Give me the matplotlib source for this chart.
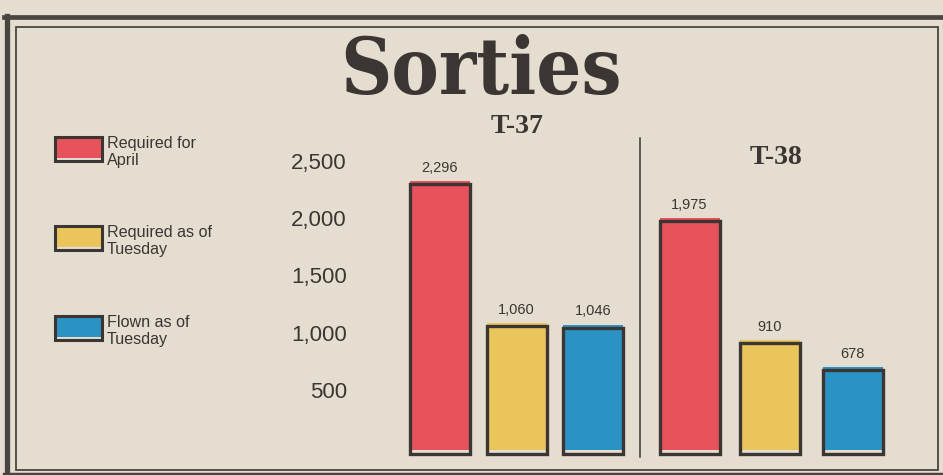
import matplotlib
matplotlib.use("Agg")
import matplotlib.pyplot as plt
from matplotlib.patches import Rectangle
from matplotlib.lines import Line2D
from matplotlib import font_manager as fm
import numpy as np

# ---- data ----
title = "Sorties"
groups = ["T-37", "T-38"]
series = ["Required for\nApril", "Required as of\nTuesday", "Flown as of\nTuesday"]
t37_values = [2296, 1060, 1046]
t38_values = [1975, 910, 678]
value_labels_t37 = ["2,296", "1,060", "1,046"]
value_labels_t38 = ["1,975", "910", "678"]
yticks = [500, 1000, 1500, 2000, 2500]
ytick_labels = ["500", "1,000", "1,500", "2,000", "2,500"]

# ---- style ----
W, H = 943, 475
BG = "#e5ddcf"
INK = "#3b3633"
FRAME = "#4a4541"
colors = ["#e8525c", "#e9c55c", "#2b93c4"]

names = {f.name for f in fm.fontManager.ttflist}
HAS_NARROW = "Liberation Sans Narrow" in names
LEG_FONT = "Liberation Sans Narrow" if HAS_NARROW else "Liberation Sans"
LEG_SIZE = 12.6 if HAS_NARROW else 11.6
LEG_LS = 1.0 if HAS_NARROW else 1.1

fig = plt.figure(figsize=(W / 100, H / 100), dpi=100, facecolor=BG)

def fx(px):
    return px / W

def fy(py):
    return 1 - py / H

# ---- frame ----
fig.add_artist(Line2D([fx(4), 1], [fy(16.5), fy(16.5)], color=FRAME, lw=3.4))
fig.add_artist(Line2D([fx(7), fx(7)], [fy(16), fy(475)], color=FRAME, lw=3.8))
fig.add_artist(Line2D([fx(4), 1], [fy(473.5), fy(473.5)], color=FRAME, lw=2.5))
fig.add_artist(Rectangle((fx(16), fy(470)), fx(938) - fx(16), fy(27) - fy(470),
                         fill=False, ec=FRAME, lw=1.3))

# ---- title ----
fig.text(fx(481), fy(94), title, fontsize=57, fontweight="bold",
         family="DejaVu Serif", fontstretch="condensed",
         color=INK, ha="center", va="baseline")

# ---- axes (pixel layout) ----
left, right, zero_px, top_px = 390, 900, 448, 148
px_per_unit = 57.5 / 500
ymax = (zero_px - top_px) / px_per_unit
ax = fig.add_axes([fx(left), fy(zero_px), fx(right) - fx(left), (zero_px - top_px) / H])
ax.set_facecolor("none")
ax.set_xlim(left, right)
ax.set_ylim(0, ymax)
for s in ax.spines.values():
    s.set_visible(False)
ax.set_xticks([])
ax.set_yticks(yticks)
ax.set_yticklabels(ytick_labels, family="Liberation Sans", fontsize=16, color=INK)
ax.tick_params(axis="y", length=0, pad=(left - 347) * 0.72)

# bar layout (pixel centres within axes)
centers = [[439.5, 516.5, 593.0], [689.5, 769.5, 852.5]]
bar_w = 60
BASE = -55          # bars extend slightly below baseline as in the artwork
SHIFT = 26          # print misregistration of the colour plate

for vals, labs, cx in [(t37_values, value_labels_t37, centers[0]),
                       (t38_values, value_labels_t38, centers[1])]:
    vals = np.array(vals, dtype=float)
    ax.bar(cx, vals - BASE - 10, bottom=BASE + SHIFT + 10, width=bar_w,
           color=colors, edgecolor="none", zorder=2, clip_on=False)
    ax.bar(cx, vals - BASE, bottom=BASE, width=bar_w, fill=False,
           edgecolor=INK, linewidth=2.4, zorder=3, clip_on=False)
    for x, v, t in zip(cx, vals, labs):
        ax.annotate(t, (x, v + SHIFT), xytext=(0, 4.5), textcoords="offset points",
                    ha="center", va="bottom", fontsize=10.5, family="Liberation Sans",
                    color=INK, annotation_clip=False)

# divider
fig.add_artist(Line2D([fx(640), fx(640)], [fy(138), fy(457)], color=INK, lw=1.1))

# group titles
fig.text(fx(517), fy(133), groups[0], fontsize=20, fontweight="bold",
         family="Liberation Serif", color=INK, ha="center", va="baseline")
fig.text(fx(776), fy(164), groups[1], fontsize=20, fontweight="bold",
         family="Liberation Serif", color=INK, ha="center", va="baseline")

# ---- legend ----
leg_y = [136, 225, 315]
for yy, c, lab in zip(leg_y, colors, series):
    fig.add_artist(Rectangle((fx(54), fy(yy + 22)), fx(47), 22 / H,
                             fc=c, ec="none"))
    fig.add_artist(Rectangle((fx(55), fy(yy + 25)), fx(47), 24 / H,
                             fill=False, ec=INK, lw=2.2))
    fig.text(fx(107), fy(yy + 16), lab, fontsize=LEG_SIZE, family=LEG_FONT,
             color=INK, ha="left", va="center", linespacing=LEG_LS)

fig.savefig("out.png", dpi=100, facecolor=BG)
